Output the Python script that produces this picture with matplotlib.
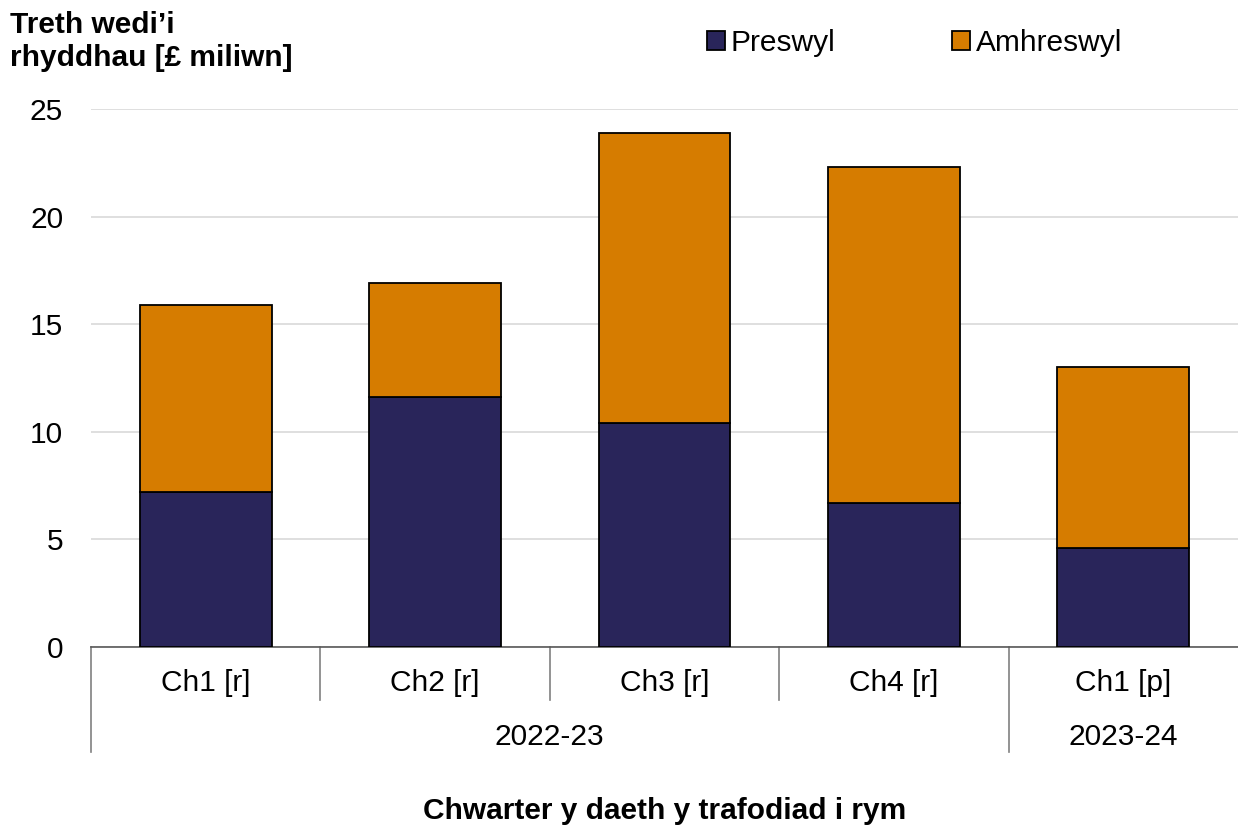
import numpy as np
import matplotlib.pyplot as plt
from matplotlib import transforms

plt.rcParams['font.family'] = ['Liberation Sans', 'DejaVu Sans']

# Daten
chwarteri = ["Ch1 [r]", "Ch2 [r]", "Ch3 [r]", "Ch4 [r]", "Ch1 [p]"]
blynyddoedd = ["2022-23", "2023-24"]
blwyddyn_chwarter = [0, 0, 0, 0, 1]  # pa flwyddyn ar gyfer pob chwarter
preswyl = [7.2, 11.6, 10.4, 6.7, 4.6]
amhreswyl = [8.7, 5.3, 13.5, 15.6, 8.4]

lliw_preswyl = '#29255A'
lliw_amhreswyl = '#D67C00'
fs = 21.5

fig = plt.figure(figsize=(12.38, 8.25), dpi=100)
ax = fig.add_axes([0.0735, 0.2158, 0.9265, 0.652])

x = np.arange(len(chwarteri))
ax.bar(x, preswyl, width=0.574, color=lliw_preswyl, edgecolor='black', linewidth=1.3,
       label='Preswyl', zorder=3)
ax.bar(x, amhreswyl, width=0.574, bottom=preswyl, color=lliw_amhreswyl, edgecolor='black',
       linewidth=1.3, label='Amhreswyl', zorder=3)

ax.set_xlim(-0.5, len(chwarteri) - 0.5)
ax.set_ylim(0, 25)
ax.set_yticks([0, 5, 10, 15, 20, 25])
ax.tick_params(axis='y', length=0, labelsize=fs, pad=20)
ax.grid(axis='y', color='#D9D9D9', linewidth=1.2, zorder=0)
for s in ['top', 'right', 'left']:
    ax.spines[s].set_visible(False)
ax.spines['bottom'].set_color('#595959')
ax.spines['bottom'].set_linewidth(1.2)

ax.set_xticks(x)
ax.set_xticklabels(chwarteri, fontsize=fs)
ax.tick_params(axis='x', length=0, pad=16)

# Llinellau rhannu o dan yr echel
trans = transforms.blended_transform_factory(ax.transData, ax.transAxes)
for i in range(len(chwarteri)):
    xpos = i - 0.5
    if i == 0 or blwyddyn_chwarter[i] != blwyddyn_chwarter[i - 1]:
        y_end = -0.195
    else:
        y_end = -0.0985
    ax.plot([xpos, xpos], [0, y_end], transform=trans, color='#808080', linewidth=1.2,
            clip_on=False)

# Labeli blynyddoedd
for j, bl in enumerate(blynyddoedd):
    idx = [i for i, b in enumerate(blwyddyn_chwarter) if b == j]
    canol = (min(idx) + max(idx)) / 2
    ax.text(canol, -0.167, bl, transform=trans, ha='center', va='center', fontsize=fs)

ax.text(0.5, -0.305, 'Chwarter y daeth y trafodiad i rym', transform=ax.transAxes,
        ha='center', va='center', fontsize=fs, fontweight='bold')

fig.text(10 / 1238, 1 - 11 / 825, 'Treth wedi\u2019i\nrhyddhau [£ miliwn]', ha='left', va='top',
         fontsize=fs, fontweight='bold', linespacing=1.22)

leg = fig.legend(loc='center left', bbox_to_anchor=(692 / 1238, 1 - 43 / 825), ncol=2,
                 frameon=False, fontsize=fs, handlelength=0.6, handleheight=0.6,
                 handletextpad=0.2, columnspacing=3.9, borderpad=0)

plt.savefig('out.png', dpi=100)
